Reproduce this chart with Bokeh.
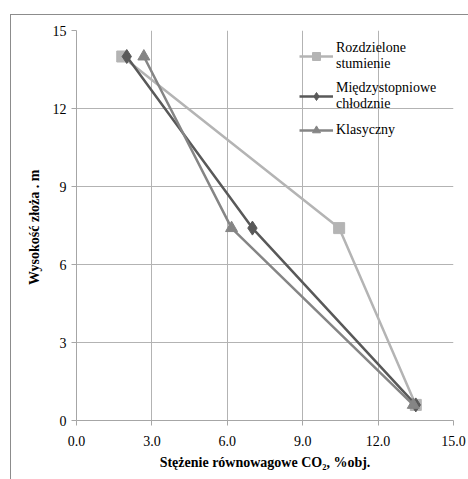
from bokeh.plotting import figure
from bokeh.layouts import column
from bokeh.models import FixedTicker, Legend, LegendItem, NumeralTickFormatter
from bokeh.embed import file_html
from bokeh.resources import INLINE

# data
roz_x = [1.82, 10.45, 13.5]
roz_y = [14.0, 7.4, 0.6]
mie_x = [2.0, 7.0, 13.5]
mie_y = [14.0, 7.4, 0.6]
kla_x = [2.68, 6.17, 13.4]
kla_y = [14.0, 7.4, 0.6]
ticks = [0, 3, 6, 9, 12, 15]
series_names = ["Rozdzielone\nstumienie", "Międzystopniowe\nchłodznie", "Klasyczny"]

FONT = "'Liberation Serif', serif"

p = figure(width=457, height=464, output_backend="svg", toolbar_location=None,
           x_range=(0, 15), y_range=(0, 15),
           min_border_left=65, min_border_right=15, min_border_top=15, min_border_bottom=59)
p.outline_line_color = None
p.background_fill_color = "white"

for ax in (p.xaxis[0], p.yaxis[0]):
    ax.ticker = FixedTicker(ticks=ticks)
    ax.minor_tick_line_color = None
    ax.major_tick_in = 0
    ax.major_tick_out = 5
    ax.axis_line_color = "#a6a6a6"
    ax.major_tick_line_color = "#a6a6a6"
    ax.major_label_text_font = FONT
    ax.major_label_text_font_size = "14px"
    ax.major_label_text_color = "black"
    ax.axis_label_text_font = FONT
    ax.axis_label_text_font_size = "14px"
    ax.axis_label_text_font_style = "bold"
    ax.axis_label_text_color = "black"

p.xaxis.formatter = NumeralTickFormatter(format="0.0")
p.xaxis.axis_label = "Stężenie równowagowe CO₂, %obj."
p.yaxis.axis_label = "Wysokość  złoża . m"
p.xaxis.major_label_standoff = 10
p.xaxis.axis_label_standoff = 6
p.yaxis.axis_label_standoff = 8

p.xgrid.ticker = FixedTicker(ticks=ticks)
p.ygrid.ticker = FixedTicker(ticks=ticks)
p.grid.grid_line_color = "#b3b3b3"
p.grid.grid_line_width = 1

c1, c2, c3 = "#b4b4b4", "#595959", "#858585"
l1 = p.line(roz_x, roz_y, line_color=c1, line_width=2.5)
m1 = p.scatter(roz_x, roz_y, marker="square", size=11, fill_color=c1, line_color=c1)
l2 = p.line(mie_x, mie_y, line_color=c2, line_width=2.5)
m2 = p.scatter(mie_x, mie_y, marker="diamond", size=14, fill_color=c2, line_color=c2)
l3 = p.line(kla_x, kla_y, line_color=c3, line_width=2.5)
m3 = p.scatter(kla_x, kla_y, marker="triangle", size=12, fill_color=c3, line_color=c3)

legend = Legend(items=[
    LegendItem(label=series_names[0], renderers=[l1, m1]),
    LegendItem(label=series_names[1], renderers=[l2, m2]),
    LegendItem(label=series_names[2], renderers=[l3, m3]),
], location=(223, 280))
legend.background_fill_alpha = 0
legend.border_line_color = None
legend.label_text_font = FONT
legend.label_text_font_size = "14px"
legend.label_text_color = "black"
legend.glyph_width = 34
legend.label_standoff = 3
legend.spacing = 8
legend.padding = 4
p.add_layout(legend)

root = column(p)
root.margin = (14, 0, 0, 10)
root.styles = {"border-left": "1px solid #8c8c8c", "border-top": "1px solid #8c8c8c"}

open("out.html", "w").write(file_html(root, INLINE))
